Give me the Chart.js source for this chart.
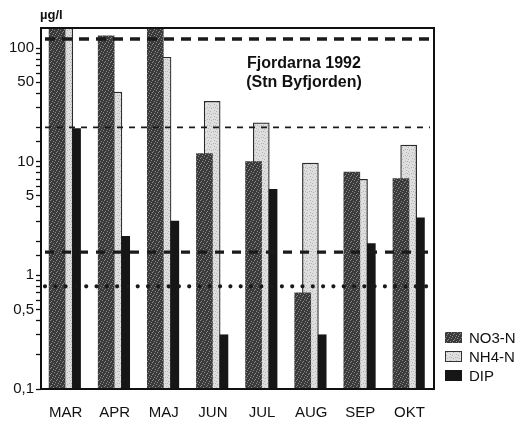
<!DOCTYPE html>
<html>
<head>
<meta charset="utf-8">
<script src="https://cdn.jsdelivr.net/npm/chart.js@4.4.1/dist/chart.umd.min.js"></script>
<style>
  html, body { margin: 0; padding: 0; background: #fff; }
  #wrap { position: relative; width: 529px; height: 424px; }
  #legend { position: absolute; left: 445px; top: 328px; font: 15px "Liberation Sans", Arial, sans-serif; color: #111; }
  #legend .row { height: 19px; display: flex; align-items: center; }
  #legend .sw { width: 17px; height: 11px; margin-right: 7px; box-sizing: border-box; }
</style>
</head>
<body>
<div id="wrap">
  <canvas id="chart" width="529" height="424"></canvas>
  <div id="legend"></div>
</div>
<script>
// data (µg/l, log scale)
const months = ["MAR", "APR", "MAJ", "JUN", "JUL", "AUG", "SEP", "OKT"];
const no3 = [200, 128, 180, 11.8, 10, 0.7, 8.1, 7.1];
const nh4 = [170, 41, 83, 34, 22, 9.7, 7.0, 14];
const dip = [19.6, 2.2, 3.0, 0.30, 5.7, 0.30, 1.9, 3.2];
const seriesNames = ["NO3-N", "NH4-N", "DIP"];
const yLabelled = [0.1, 0.5, 1, 5, 10, 50, 100];
const refLevels = [120, 20, 1.6, 0.8];
const titleLines = ["Fjordarna 1992", "(Stn Byfjorden)"];
const unitLabel = "µg/l";

// look
const FONT = '"Liberation Sans", Arial, sans-serif';
const INK = "#111";
const barOffset = [-0.173, -0.016, 0.224];   // in category units
const barWidth = [16, 16, 8];
const refStyles = [
  { width: 3.5, dash: [10, 7], cap: "butt" },
  { width: 1.8, dash: [6, 6], cap: "butt" },
  { width: 3.2, dash: [9, 8], cap: "butt" },
  { width: 4.2, dash: [0, 10.3], cap: "round" },
];

// speckled fills like the printed hatching
function speckle(base, dot, spots) {
  const c = document.createElement("canvas");
  c.width = 6; c.height = 6;
  const g = c.getContext("2d");
  g.fillStyle = base; g.fillRect(0, 0, 6, 6);
  g.fillStyle = dot;
  spots.forEach(([x, y]) => g.fillRect(x, y, 1, 1));
  return c;
}
const no3Tile = speckle("#3b3b3b", "#8a8a8a", [[0, 0], [3, 1], [5, 3], [1, 4], [4, 5], [2, 2]]);
const nh4Tile = speckle("#dedede", "#b4b4b4", [[1, 0], [4, 2], [0, 3], [3, 5], [5, 5]]);
const ctx = document.getElementById("chart").getContext("2d");
const fills = [ctx.createPattern(no3Tile, "repeat"), ctx.createPattern(nh4Tile, "repeat"), "#161616"];
const swatchCss = [
  `background:url(${no3Tile.toDataURL()})`,
  `background:url(${nh4Tile.toDataURL()});border:1px solid #333`,
  "background:#161616",
];

function points(arr, off) {
  return arr.map((v, i) => ({ x: i + off, y: v }));
}

const refLines = {
  id: "refLines",
  afterDatasetsDraw(chart) {
    const { ctx, chartArea: a, scales: { y } } = chart;
    ctx.save();
    ctx.strokeStyle = "#1a1a1a";
    refLevels.forEach((v, i) => {
      const s = refStyles[i];
      const py = y.getPixelForValue(v);
      ctx.beginPath();
      ctx.setLineDash(s.dash);
      ctx.lineWidth = s.width;
      ctx.lineCap = s.cap;
      ctx.moveTo(a.left + 4, py);
      ctx.lineTo(a.right - 4, py);
      ctx.stroke();
    });
    ctx.restore();
  },
  afterDraw(chart) {
    const { ctx, chartArea: a } = chart;
    ctx.save();
    ctx.strokeStyle = INK;
    ctx.lineWidth = 2;
    ctx.strokeRect(a.left, a.top, a.right - a.left, a.bottom - a.top);
    ctx.fillStyle = INK;
    ctx.textAlign = "center";
    ctx.textBaseline = "middle";
    ctx.font = "bold 16px " + FONT;
    ctx.fillText(titleLines[0], 304, 64);
    ctx.fillText(titleLines[1], 304, 83);
    ctx.textAlign = "left";
    ctx.font = "bold 13px " + FONT;
    ctx.fillText(unitLabel, 40, 15);
    ctx.restore();
  },
};

const series = [no3, nh4, dip];
const drawOrder = [2, 3, 1];

new Chart(ctx, {
  type: "bar",
  data: {
    datasets: series.map((arr, k) => ({
      label: seriesNames[k],
      data: points(arr, barOffset[k]),
      backgroundColor: fills[k],
      borderColor: k === 1 ? "#2a2a2a" : "transparent",
      borderWidth: k === 1 ? 1.2 : 0,
      barThickness: barWidth[k],
      grouped: false,
      order: drawOrder[k],
    })),
  },
  options: {
    responsive: false,
    animation: false,
    devicePixelRatio: 1,
    layout: { padding: { top: 28, right: 95, left: 0, bottom: 0 } },
    plugins: { legend: { display: false }, tooltip: { enabled: false } },
    scales: {
      x: {
        type: "linear",
        offset: false,
        min: -0.5,
        max: 7.5,
        afterBuildTicks: (s) => { s.ticks = months.map((m, i) => ({ value: i })); },
        afterFit: (s) => { s.height = 35; },
        grid: { display: false, offset: false },
        border: { display: false },
        ticks: {
          autoSkip: false,
          maxRotation: 0,
          padding: 7,
          color: INK,
          font: { family: FONT, size: 15 },
          callback: (v) => months[v] || "",
        },
      },
      y: {
        type: "logarithmic",
        min: 0.1,
        max: 150,
        afterFit: (s) => { s.width = 41; },
        border: { display: false },
        grid: {
          drawOnChartArea: false,
          drawTicks: true,
          tickLength: 5,
          tickWidth: 1.3,
          tickColor: (c) => (c.tick && c.tick.value > 101 ? "transparent" : INK),
        },
        ticks: {
          autoSkip: false,
          padding: 2,
          color: INK,
          font: { family: FONT, size: 15 },
          callback: (v) => {
            const hit = yLabelled.find((t) => Math.abs(t - v) < t * 1e-6);
            return hit === undefined ? "" : String(hit).replace(".", ",");
          },
        },
      },
    },
  },
  plugins: [refLines],
});

// legend as text beside the chart
const legend = document.getElementById("legend");
seriesNames.forEach((name, k) => {
  const row = document.createElement("div");
  row.className = "row";
  const sw = document.createElement("span");
  sw.className = "sw";
  sw.style.cssText = swatchCss[k];
  row.appendChild(sw);
  row.appendChild(document.createTextNode(name));
  legend.appendChild(row);
});
</script>
</body>
</html>
